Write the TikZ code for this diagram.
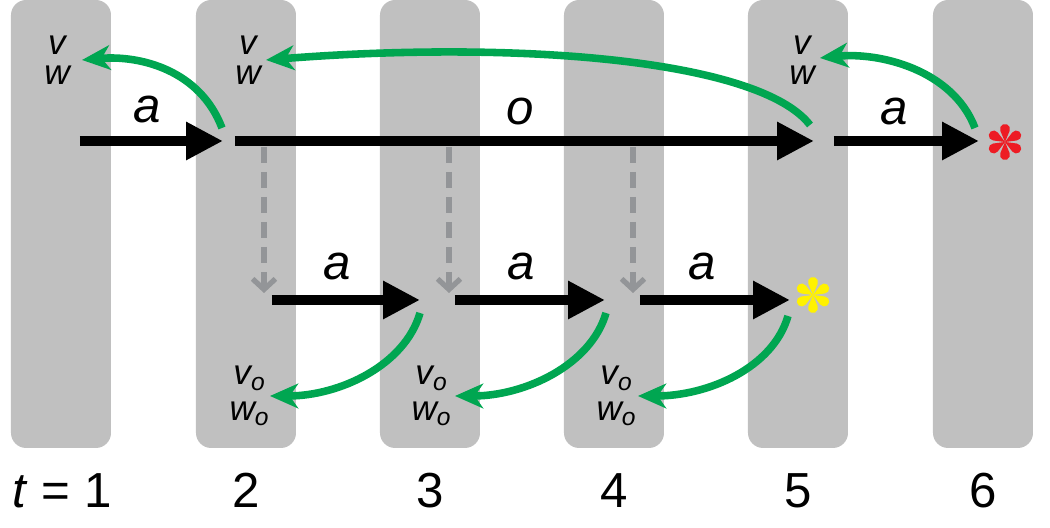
\documentclass[tikz,border=0pt]{standalone}
\usepackage{fontspec}
\setmainfont{Liberation Sans}
\usetikzlibrary{arrows.meta}
\definecolor{barGray}{RGB}{192,192,192}
\definecolor{valGreen}{RGB}{0,166,81}
\definecolor{optGray}{RGB}{147,149,152}
\definecolor{endRed}{RGB}{237,28,36}
\definecolor{endYellow}{RGB}{255,242,0}
\tikzset{
	act/.style={line width=2.85pt, -{Triangle[length=10.5pt,width=10.2pt]}},
	backup/.style={valGreen, line width=2.15pt, -{Stealth[length=8pt,width=7pt,inset=2.4pt]}},
	opt/.style={optGray, line width=1.5pt, dash pattern=on 4.5pt off 2.6pt, -{Straight Barb[length=3pt,width=6.5pt]}},
	lbl/.style={font=\fontsize{14}{14}\selectfont\itshape, anchor=base, inner sep=0pt},
	tlbl/.style={font=\fontsize{14}{14}\selectfont, anchor=base, inner sep=0pt},
	vals/.style={font=\fontsize{10}{8.5}\selectfont\itshape, align=center, inner sep=0pt},
	ovals/.style={font=\fontsize{10}{10}\selectfont\itshape, align=center, inner sep=0pt},
	burst/.pic={
		\foreach \ang in {30,90,...,330}
			\fill[rotate=\ang] (0,0) -- (22.6:3.41pt) arc[start angle=112.6, end angle=-112.6, radius=1.42pt] -- cycle;
	}
}
\begin{document}
\begin{tikzpicture}[x=0.01cm, y=-0.01cm]
	\useasboundingbox (0,0) rectangle (1050,528);
	% time steps
	\foreach \x in {11,196,380,564,748,933}
		\fill[barGray, rounded corners=4.3pt] (\x,0) rectangle ++(100,448);
	\node[tlbl] (t1) at (62,508) {\textit{t} = 1};
	\foreach \n/\x in {2/246,3/430,4/614,5/798,6/983}
		\node[tlbl] (t\n) at (\x,508) {\n};

	% top row
	\coordinate (out1) at (80,141);
	\coordinate (in2) at (223,141);
	\coordinate (out2) at (235,141);
	\coordinate (in5) at (814,141);
	\coordinate (out5) at (834,141);
	\coordinate (in6) at (979,141);
	\draw[act] (out1) -- (in2);
	\draw[act] (out2) -- (in5);
	\draw[act] (out5) -- (in6);
	\node[lbl] (a12) at (147,123) {a};
	\node[lbl] (o25) at (520,125) {o};
	\node[lbl] (a56) at (894,125) {a};
	\pic[endRed] (stop6) at (1005,142) {burst};

	% bottom row
	\coordinate (bout2) at (272,300);
	\coordinate (bin3) at (420,300);
	\coordinate (bout3) at (455,300);
	\coordinate (bin4) at (605,300);
	\coordinate (bout4) at (640,300);
	\coordinate (bin5) at (790,300);
	\draw[act] (bout2) -- (bin3);
	\draw[act] (bout3) -- (bin4);
	\draw[act] (bout4) -- (bin5);
	\node[lbl] (b23) at (337,280) {a};
	\node[lbl] (b34) at (521,280) {a};
	\node[lbl] (b45) at (702,280) {a};
	\pic[endYellow] (stop5) at (813,295) {burst};

	% option start
	\foreach \n/\x in {2/264,3/449,4/633}{
		\coordinate (d\n) at (\x,147);
		\coordinate (e\n) at (\x,293);
		\draw[opt] (d\n) -- (e\n);
	}

	% values
	\node[vals] (vw1) at (57,60) {v\\w};
	\node[vals] (vw2) at (248,60) {v\\w};
	\node[vals] (vw5) at (802,60) {v\\w};
	\node[ovals] (vo2) at (250,396) {v\textsubscript{o}\\w\textsubscript{o}};
	\node[ovals] (vo3) at (432,396) {v\textsubscript{o}\\w\textsubscript{o}};
	\node[ovals] (vo4) at (617,396) {v\textsubscript{o}\\w\textsubscript{o}};

	% backups
	\coordinate (g2) at (222,128);  \coordinate (h1) at (82,60);
	\coordinate (g5) at (810,125);  \coordinate (h2) at (266,60);
	\coordinate (g6) at (975,128);  \coordinate (h5) at (820,58);
	\draw[backup] (g2) .. controls +(-22,-58) and +(58,-5) .. (h1);
	\draw[backup] (g5) .. controls (760,60) and (520,40) .. (h2);
	\draw[backup] (g6) .. controls +(-22,-58) and +(60,-6) .. (h5);
	\foreach \m/\x/\y/\tx in {3/420/313/270, 4/606/313/455, 5/788/316/638}{
		\coordinate (k\m) at (\x,\y);
		\coordinate (q\m) at (\tx,396);
		\draw[backup] (k\m) .. controls +(-15,52) and +(70,0) .. (q\m);
	}
\end{tikzpicture}
\end{document}
